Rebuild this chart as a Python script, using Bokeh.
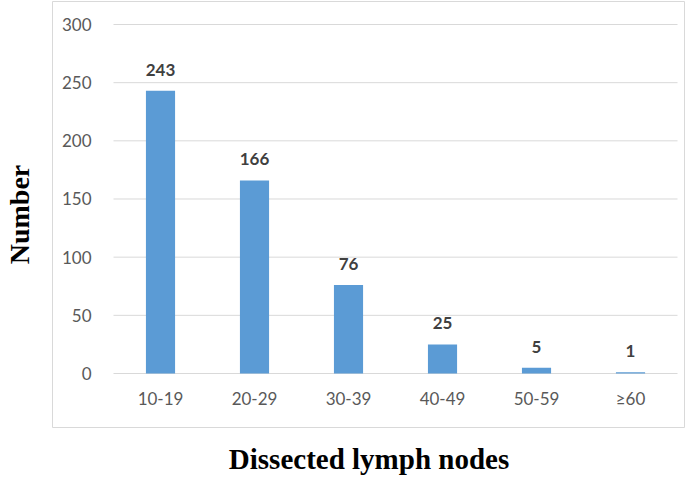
from bokeh.plotting import figure
from bokeh.models import ColumnDataSource, FixedTicker, LabelSet, Range1d
from bokeh.core.properties import value
from bokeh.embed import file_html
from bokeh.resources import INLINE

categories = ["10-19", "20-29", "30-39", "40-49", "50-59", "≥60"]
counts = [243, 166, 76, 25, 5, 1]
y_ticks = [0, 50, 100, 150, 200, 250, 300]

pos = [i + 1 for i in range(len(categories))]
src = ColumnDataSource(dict(x=pos, n=counts, lbl=[str(v) for v in counts]))
grid_src = ColumnDataSource(dict(y=y_ticks, x0=[0.5] * len(y_ticks),
                                 x1=[len(categories) + 0.5] * len(y_ticks)))

p = figure(width=685, height=481, x_range=Range1d(-0.149, 6.585),
           y_range=Range1d(-46.42, 319.77), output_backend="svg", toolbar_location=None,
           min_border_left=52, min_border_right=0, min_border_top=1, min_border_bottom=54)
p.outline_line_color = "#D9D9D9"
p.outline_line_width = 1
p.background_fill_color = "white"
p.border_fill_color = "white"
p.xgrid.grid_line_color = None
p.ygrid.grid_line_color = None

p.segment(x0="x0", x1="x1", y0="y", y1="y", source=grid_src, line_color="#D9D9D9", line_width=1)
p.vbar(x="x", top="n", width=0.31, source=src, color="#5B9BD5", line_color=None)

labels = LabelSet(x="x", y="n", text="lbl", source=src, text_align="center",
                  text_baseline="alphabetic", y_offset=15, text_font=value("Lato"),
                  text_font_style="bold", text_font_size="17px", text_color="#404040")
p.add_layout(labels)

p.yaxis.ticker = FixedTicker(ticks=y_ticks)
p.yaxis.axis_line_color = None
p.yaxis.major_tick_line_color = None
p.yaxis.minor_tick_line_color = None
p.yaxis.major_label_text_font = "Lato"
p.yaxis.major_label_text_font_size = "17px"
p.yaxis.major_label_text_color = "#595959"
p.yaxis.major_label_standoff = -45
p.yaxis.axis_label = "Number"
p.yaxis.axis_label_text_font = "Liberation Serif"
p.yaxis.axis_label_text_font_style = "bold"
p.yaxis.axis_label_text_font_size = "28px"
p.yaxis.axis_label_text_color = "black"
p.yaxis.axis_label_standoff = 24

p.xaxis.ticker = FixedTicker(ticks=pos)
p.xaxis.major_label_overrides = {k: c for k, c in zip(pos, categories)}
p.xaxis.axis_line_color = None
p.xaxis.major_tick_line_color = None
p.xaxis.minor_tick_line_color = None
p.xaxis.major_label_text_font = "Lato"
p.xaxis.major_label_text_font_size = "17px"
p.xaxis.major_label_text_color = "#595959"
p.xaxis.major_label_standoff = -46
p.xaxis.axis_label = "Dissected lymph nodes"
p.xaxis.axis_label_text_font = "Liberation Serif"
p.xaxis.axis_label_text_font_style = "bold"
p.xaxis.axis_label_text_font_size = "29px"
p.xaxis.axis_label_text_color = "black"
p.xaxis.axis_label_standoff = 31

open("out.html", "w").write(file_html(p, INLINE))
